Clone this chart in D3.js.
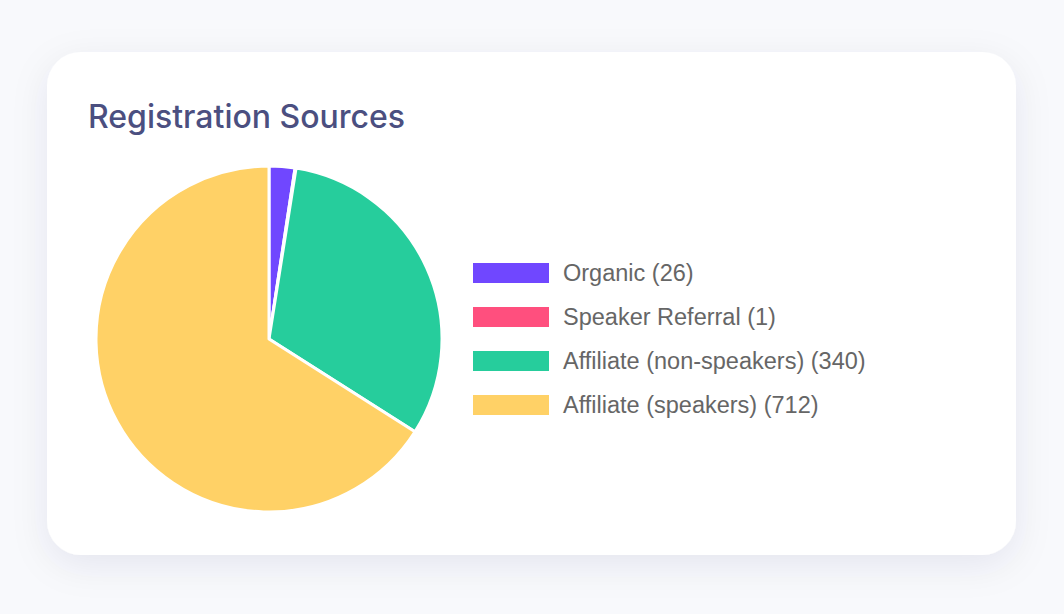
<!DOCTYPE html>
<html>
<head>
<meta charset="utf-8">
<script src="https://cdn.jsdelivr.net/npm/d3@7"></script>
<style>
  html, body { margin: 0; padding: 0; background: #f8f9fc; }
  svg { display: block; }
  .legend-label { font-family: "Liberation Sans", Arial, Helvetica, sans-serif; }
  .title { font-family: Inter, sans-serif; }
</style>
</head>
<body>
<svg id="chart" width="1064" height="614"></svg>
<script>
const labels = ["Organic", "Speaker Referral", "Affiliate (non-speakers)", "Affiliate (speakers)"];
const counts = [26, 1, 340, 712];
const colors = ["#7047ff", "#ff4f7e", "#26cd9c", "#ffd166"];

const width = 1064;
const height = 614;
const card = {x: 47, y: 52, w: 969, h: 503, r: 34};
const cx = 269;
const cy = 339;
const radius = 173;

const svg = d3.select("#chart");

const defs = svg.append("defs");
const shadow = defs.append("filter")
    .attr("id", "shadow")
    .attr("x", "-20%").attr("y", "-20%")
    .attr("width", "140%").attr("height", "150%");
shadow.append("feDropShadow")
    .attr("dx", 0).attr("dy", 10)
    .attr("stdDeviation", 18)
    .attr("flood-color", "#1e2a5a")
    .attr("flood-opacity", 0.08);

svg.append("rect")
    .attr("x", card.x).attr("y", card.y)
    .attr("width", card.w).attr("height", card.h)
    .attr("rx", card.r)
    .attr("fill", "#ffffff")
    .attr("filter", "url(#shadow)");

svg.append("text")
    .attr("class", "title")
    .attr("x", 88)
    .attr("y", 128)
    .attr("font-weight", 500)
    .attr("font-size", 32)
    .attr("fill", "#4b4f80")
    .text("Registration Sources");

// pie
const data = labels.map((d, i) => ({label: d, count: counts[i], color: colors[i]}));

const pie = d3.pie()
    .value(d => d.count)
    .sort(null);

const arc = d3.arc()
    .innerRadius(0)
    .outerRadius(radius);

svg.append("g")
    .attr("transform", `translate(${[cx, cy]})`)
    .selectAll("path")
    .data(pie(data))
    .join("path")
    .attr("d", arc)
    .attr("fill", d => d.data.color)
    .attr("stroke", "#ffffff")
    .attr("stroke-width", 3)
    .attr("stroke-linejoin", "round");

// legend
const legendY = d3.scalePoint()
    .domain(labels)
    .range([273, 405]);

const legend = svg.append("g")
    .selectAll("g")
    .data(data)
    .join("g")
    .attr("transform", d => `translate(${[473, legendY(d.label)]})`);

legend.append("rect")
    .attr("x", 0).attr("y", -10)
    .attr("width", 76).attr("height", 20)
    .attr("fill", d => d.color);

legend.append("text")
    .attr("class", "legend-label")
    .attr("x", 90)
    .attr("y", 0)
    .attr("dy", "0.36em")
    .attr("font-size", 23.5)
    .attr("fill", "#666666")
    .text(d => `${d.label} (${d.count})`);
</script>
</body>
</html>
